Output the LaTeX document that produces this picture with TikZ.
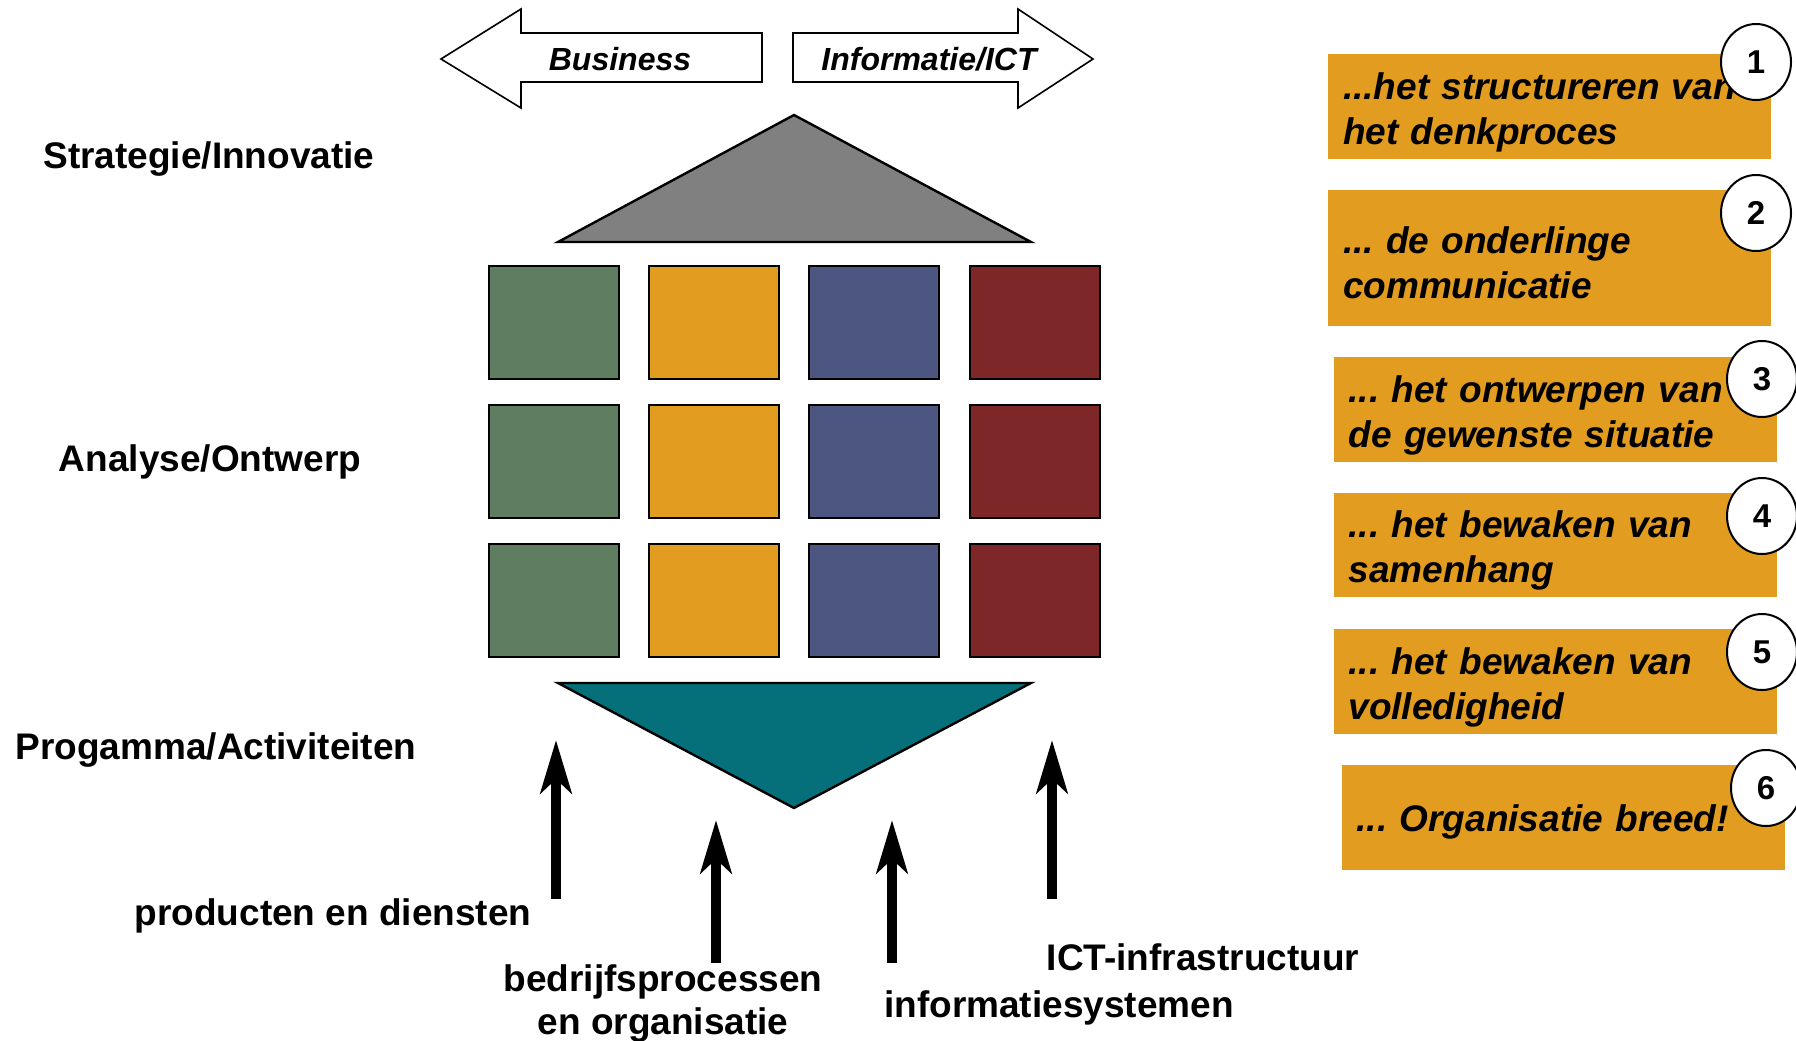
\documentclass[tikz,border=0pt]{standalone}
\usepackage{fontspec}
\setmainfont{Liberation Sans}
\usetikzlibrary{arrows.meta,shapes.geometric}
\definecolor{sqgreen}{HTML}{5F7D60}
\definecolor{sqorange}{HTML}{E29C1F}
\definecolor{sqblue}{HTML}{4D5681}
\definecolor{sqred}{HTML}{7E2729}
\definecolor{roofgrey}{HTML}{808080}
\definecolor{baseteal}{HTML}{057079}
\frenchspacing
\begin{document}
\begin{tikzpicture}[x=1pt,y=-1pt,
  lbl/.style={font=\fontsize{37}{44}\selectfont\bfseries, inner sep=0pt, anchor=base},
  toplbl/.style={font=\fontsize{32}{38}\selectfont\bfseries\itshape, inner sep=0pt},
  sq/.style={draw=black, line width=2.8pt, minimum width=130pt, minimum height=113pt, inner sep=0pt},
  obox/.style={fill=sqorange, minimum width=443pt, inner sep=0pt},
  otext/.style={text width=413pt, align=left, inner sep=0pt,
     font=\fontsize{37}{45}\selectfont\bfseries\itshape\frenchspacing},
  num/.style={ellipse, draw=black, line width=2pt, fill=white, minimum width=70pt, minimum height=76pt,
     inner sep=0pt, font=\fontsize{33}{38}\selectfont\bfseries},
  uparrow/.style={line width=10pt, -{Stealth[length=53pt,width=31pt,inset=14pt]}},
  bigarrow/.style={draw=black, line width=1.6pt, fill=white, line join=miter}
]
\useasboundingbox (0,0) rectangle (1796,1041);

% top arrows
\draw[bigarrow] (441,59) -- (521,9) -- (521,33) -- (762,33) -- (762,82) -- (521,82) -- (521,108) -- cycle;
\draw[bigarrow] (793,33) -- (1018,33) -- (1018,9) -- (1093,59) -- (1018,108) -- (1018,82) -- (793,82) -- cycle;
\node[toplbl] (biz) at (620,59) {Business};
\node[toplbl] (ict) at (929,59) {Informatie/ICT};

% roof
\draw[fill=roofgrey, line width=2.4pt, line join=miter] (558,242) -- (794,115) -- (1031,242) -- cycle;

% squares
\foreach \r/\y in {1/322.5, 2/461.5, 3/600.5}{
  \node[sq, fill=sqgreen]  (sq\r a) at (554,\y) {};
  \node[sq, fill=sqorange] (sq\r b) at (714,\y) {};
  \node[sq, fill=sqblue]   (sq\r c) at (874,\y) {};
  \node[sq, fill=sqred]    (sq\r d) at (1035,\y) {};
}

% base triangle
\draw[fill=baseteal, line width=2.4pt, line join=miter] (558,683) -- (1031,683) -- (794,808) -- cycle;

% left labels
\node[lbl] (strat) at (209,168) {Strategie/Innovatie};
\node[lbl] (anal) at (210,471) {Analyse/Ontwerp};
\node[lbl] (prog) at (216,759) {Progamma/Activiteiten};

% bottom arrows
\coordinate (a1s) at (556,899); \coordinate (a1e) at (556,740);
\coordinate (a2s) at (716,963); \coordinate (a2e) at (716,820);
\coordinate (a3s) at (892,963); \coordinate (a3e) at (892,820);
\coordinate (a4s) at (1052,899); \coordinate (a4e) at (1052,740);
\draw[uparrow] (a1s) -- (a1e);
\draw[uparrow] (a2s) -- (a2e);
\draw[uparrow] (a3s) -- (a3e);
\draw[uparrow] (a4s) -- (a4e);

% bottom labels
\node[lbl] (prod) at (333,925) {producten en diensten};
\node[lbl] (bp1) at (663,991) {bedrijfsprocessen};
\node[lbl] (bp2) at (663,1034) {en organisatie};
\node[lbl] (infra) at (1203,970) {ICT-infrastructuur};
\node[lbl] (infsys) at (1059,1017) {informatiesystemen};

% right boxes
\node[obox, minimum height=105pt] (b1) at (1549.5,106.5) {};
\node[obox, minimum height=136pt] (b2) at (1549.5,258) {};
\node[obox, minimum height=105pt] (b3) at (1555,409.5) {};
\node[obox, minimum height=104pt] (b4) at (1555,545) {};
\node[obox, minimum height=105pt] (b5) at (1555,681.5) {};
\node[obox, minimum height=105pt] (b6) at (1563,817.5) {};

\node[otext] (t1) at (1549.5,112) {...het structureren van\\het denkproces};
\node[otext] (t2) at (1549.5,263) {... de onderlinge\\communicatie};
\node[otext] (t3) at (1555,415) {... het ontwerpen van\\de gewenste situatie};
\node[otext] (t4) at (1555,550) {... het bewaken van\\samenhang};
\node[otext] (t5) at (1555,687) {... het bewaken van\\volledigheid};
\node[otext] (t6) at (1563,822) {... Organisatie breed!};

\node[num] (n1) at (1756,62) {1};
\node[num] (n2) at (1756,213) {2};
\node[num] (n3) at (1762,379) {3};
\node[num] (n4) at (1762,516) {4};
\node[num] (n5) at (1762,652) {5};
\node[num] (n6) at (1766,788) {6};
\end{tikzpicture}
\end{document}
